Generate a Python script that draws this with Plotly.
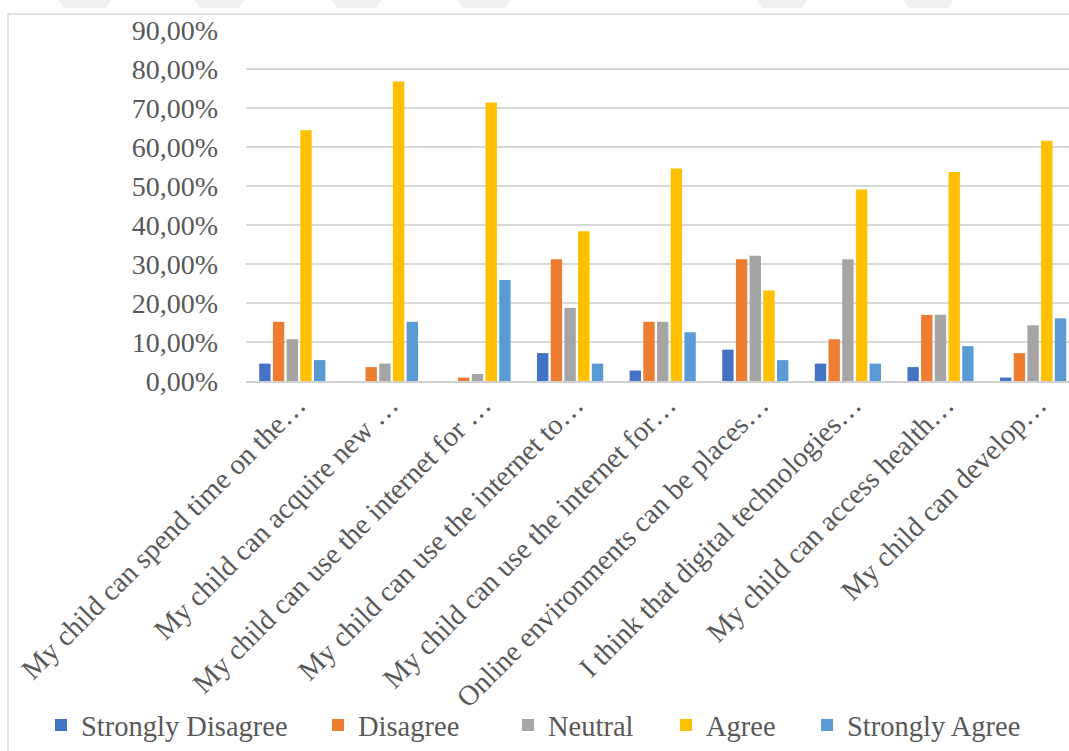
import plotly.graph_objects as go

# Survey items (labels are shortened with an ellipsis as in the source table)
categories = [
    "My child can spend time on the…",
    "My child can acquire new …",
    "My child can use the internet for …",
    "My child can use the internet to…",
    "My child can use the internet for…",
    "Online environments can be places…",
    "I think that digital technologies…",
    "My child can access health…",
    "My child can develop…",
]

# Share of respondents per answer (%)
strongly_disagree = [4.46, 0.00, 0.00, 7.14, 2.68, 8.04, 4.46, 3.57, 0.89]
disagree = [15.18, 3.57, 0.89, 31.25, 15.18, 31.25, 10.71, 16.96, 7.14]
neutral = [10.71, 4.46, 1.79, 18.75, 15.18, 32.14, 31.25, 16.96, 14.29]
agree = [64.29, 76.79, 71.43, 38.39, 54.46, 23.21, 49.11, 53.57, 61.61]
strongly_agree = [5.36, 15.18, 25.89, 4.46, 12.50, 5.36, 4.46, 8.93, 16.07]

series_names = ["Strongly Disagree", "Disagree", "Neutral", "Agree", "Strongly Agree"]
series_values = [strongly_disagree, disagree, neutral, agree, strongly_agree]
series_colors = ["#4472C4", "#ED7D31", "#A5A5A5", "#FFC000", "#5B9BD5"]

y_ticks = [0, 10, 20, 30, 40, 50, 60, 70, 80, 90]
y_tick_labels = ["0,00%", "10,00%", "20,00%", "30,00%", "40,00%",
                 "50,00%", "60,00%", "70,00%", "80,00%", "90,00%"]

W, H = 1069, 751
ML, MR, MT, MB = 246, 0, 30, 369
PLOT_W = W - ML - MR
PLOT_H = H - MT - MB
FONT = "Liberation Serif"
TEXT_COLOR = "#595959"


def fx(px):
    """Pixel x -> paper fraction."""
    return (px - ML) / PLOT_W


def fy(py):
    """Pixel y (from top) -> paper fraction."""
    return (H - MB - py) / PLOT_H


fig = go.Figure()

legend_keys = ["legend", "legend2", "legend3", "legend4", "legend5"]
legend_text_x = [81, 358, 548, 706, 847]

x_idx = list(range(len(categories)))
for name, vals, color, lk in zip(series_names, series_values, series_colors, legend_keys):
    fig.add_trace(
        go.Bar(
            x=x_idx,
            y=vals,
            name=name,
            marker=dict(color=color, line=dict(width=0)),
            legend=lk,
            showlegend=True,
        )
    )

legend_common = dict(
    orientation="h",
    yanchor="middle",
    xanchor="left",
    font=dict(family=FONT, size=28.5, color=TEXT_COLOR),
    bgcolor="rgba(0,0,0,0)",
    borderwidth=0,
)
legend_layout = {}
for lk, tx in zip(legend_keys, legend_text_x):
    legend_layout[lk] = dict(legend_common, x=fx(tx - 40), y=fy(728))

# outer chart frame
shapes = [
    dict(
        type="rect", xref="paper", yref="paper",
        x0=fx(8), x1=fx(1080), y0=fy(14), y1=fy(770),
        line=dict(color="#d9d9d9", width=1.5), fillcolor="rgba(0,0,0,0)", layer="below",
    )
]
# faint marks along the top edge of the page
for a, b in [(58, 112), (194, 245), (331, 382), (457, 511), (757, 808), (903, 954)]:
    path = "M {} {} L {} {} L {} {} L {} {} Z".format(
        fx(a), fy(-1), fx(b), fy(-1), fx(b - 6), fy(8), fx(a + 6), fy(8)
    )
    shapes.append(dict(type="path", xref="paper", yref="paper", path=path,
                       fillcolor="#f0f0f0", line=dict(width=0), layer="below"))

fig.update_layout(
    width=W,
    height=H,
    margin=dict(l=ML, r=MR, t=MT, b=MB, pad=0),
    paper_bgcolor="white",
    plot_bgcolor="white",
    barmode="group",
    bargap=0.26,
    bargroupgap=0.17,
    showlegend=True,
    font=dict(family=FONT, size=28, color=TEXT_COLOR),
    shapes=shapes,
    **legend_layout,
)

fig.update_xaxes(
    range=[-0.5, -0.5 + PLOT_W / 92.6],
    tickmode="array",
    tickvals=x_idx,
    ticktext=categories,
    tickangle=-45,
    tickfont=dict(family=FONT, size=28.5, color=TEXT_COLOR),
    ticklabelshift=5,
    ticklabelstandoff=-6,
    showgrid=False,
    showline=True,
    linecolor="#d0d0d0",
    linewidth=1.5,
    ticks="",
    zeroline=False,
)

fig.update_yaxes(
    range=[0, 90],
    tickmode="array",
    tickvals=y_ticks,
    ticktext=y_tick_labels,
    tickfont=dict(family=FONT, size=28, color=TEXT_COLOR),
    showgrid=True,
    gridcolor="#d9d9d9",
    gridwidth=1.5,
    zeroline=False,
    showline=False,
    ticks="",
    ticklabelstandoff=27,
)

fig.write_html("out.html")
